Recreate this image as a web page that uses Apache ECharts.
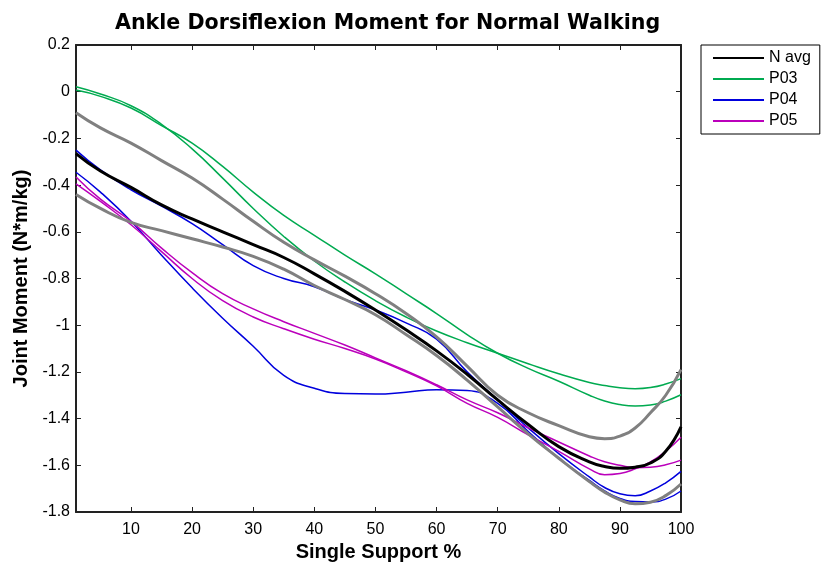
<!DOCTYPE html>
<html>
<head>
<meta charset="utf-8">
<script src="https://cdn.jsdelivr.net/npm/echarts@6/dist/echarts.min.js"></script>
<style>
  html, body { margin: 0; padding: 0; background: #fff; }
  #chart { width: 821px; height: 562px; }
</style>
</head>
<body>
<div id="chart"></div>
<script>
// single support %, sampled every 5 (denser near the end where curves turn)
const xs = [1, 5, 10, 15, 20, 25, 30, 35, 40, 45, 50, 55, 60, 65, 70, 75, 80, 85, 87.5, 90, 92.5, 95, 97.5, 100]
const xTicks = [10, 20, 30, 40, 50, 60, 70, 80, 90, 100]

const nAvg = [-0.265, -0.34, -0.41, -0.485, -0.545, -0.6, -0.655, -0.71, -0.78, -0.855, -0.935, -1.02, -1.11, -1.21, -1.32, -1.425, -1.52, -1.585, -1.605, -1.613, -1.608, -1.59, -1.54, -1.435]
const nUpper = [-0.09, -0.155, -0.22, -0.295, -0.37, -0.46, -0.555, -0.645, -0.72, -0.79, -0.865, -0.95, -1.05, -1.175, -1.3, -1.375, -1.43, -1.478, -1.486, -1.475, -1.44, -1.375, -1.3, -1.19]
const nLower = [-0.44, -0.5, -0.56, -0.595, -0.63, -0.665, -0.705, -0.76, -0.83, -0.89, -0.955, -1.04, -1.13, -1.235, -1.35, -1.465, -1.57, -1.67, -1.715, -1.748, -1.765, -1.758, -1.73, -1.68]

const p03a = [0.021, -0.01, -0.06, -0.14, -0.245, -0.37, -0.5, -0.62, -0.725, -0.815, -0.895, -0.965, -1.025, -1.075, -1.12, -1.165, -1.208, -1.245, -1.258, -1.268, -1.272, -1.267, -1.252, -1.229]
const p03b = [0.007, -0.02, -0.07, -0.145, -0.22, -0.32, -0.43, -0.53, -0.615, -0.7, -0.78, -0.865, -0.95, -1.04, -1.12, -1.185, -1.24, -1.3, -1.325, -1.34, -1.346, -1.342, -1.325, -1.298]

const p04a = [-0.25, -0.335, -0.42, -0.49, -0.565, -0.655, -0.745, -0.8, -0.835, -0.89, -0.935, -0.99, -1.06, -1.2, -1.32, -1.44, -1.55, -1.65, -1.695, -1.722, -1.73, -1.71, -1.675, -1.626]
const p04b = [-0.345, -0.43, -0.555, -0.7, -0.84, -0.97, -1.09, -1.215, -1.27, -1.293, -1.295, -1.287, -1.276, -1.28, -1.335, -1.455, -1.57, -1.665, -1.71, -1.742, -1.755, -1.757, -1.745, -1.71]

const p05a = [-0.365, -0.46, -0.555, -0.67, -0.775, -0.865, -0.93, -0.985, -1.035, -1.085, -1.14, -1.195, -1.255, -1.32, -1.375, -1.44, -1.5, -1.56, -1.585, -1.6, -1.61, -1.608, -1.598, -1.578]
const p05b = [-0.395, -0.47, -0.57, -0.685, -0.8, -0.895, -0.965, -1.015, -1.06, -1.1, -1.145, -1.2, -1.26, -1.335, -1.395, -1.47, -1.54, -1.615, -1.64, -1.635, -1.615, -1.585, -1.54, -1.48]

const pairs = (ys) => xs.map((x, i) => [x, ys[i]])

const font = 'Liberation Sans'

const lineSeries = (name, ys, color, width) => ({
  name: name,
  type: 'line',
  data: pairs(ys),
  smooth: true,
  symbol: 'none',
  xAxisIndex: 0,
  yAxisIndex: 0,
  lineStyle: { color: color, width: width },
  itemStyle: { color: color }
})

const frameAxis = { show: true, onZero: false, lineStyle: { color: '#222', width: 2 } }
const frameTick = (vals) => ({ show: true, inside: true, length: 5, customValues: vals, lineStyle: { color: '#222' } })

const chart = echarts.init(document.getElementById('chart'))

const option = {
  animation: false,
  backgroundColor: '#fff',
  title: {
    text: 'Ankle Dorsiflexion Moment for Normal Walking',
    left: 115,
    top: 13,
    padding: 0,
    textStyle: { fontFamily: 'DejaVu Sans', fontWeight: 'bold', fontSize: 20.6, color: '#000' }
  },
  legend: {
    orient: 'vertical',
    left: 701,
    top: 45,
    data: ['N avg', 'P03', 'P04', 'P05'],
    itemWidth: 51,
    itemHeight: 16,
    itemGap: 5,
    padding: [5, 9, 5, 11],
    borderColor: '#000',
    borderWidth: 1,
    borderRadius: 0,
    itemStyle: { opacity: 0 },
    textStyle: { fontFamily: font, fontSize: 16, color: '#000' }
  },
  grid: { left: 76, right: 140, top: 45, bottom: 50, containLabel: false, outerBoundsMode: 'none' },
  xAxis: [
    {
      type: 'value',
      min: 1,
      max: 100,
      name: 'Single Support %',
      nameLocation: 'middle',
      nameGap: 26,
      nameTextStyle: { fontFamily: font, fontWeight: 'bold', fontSize: 20, color: '#000' },
      axisLine: frameAxis,
      axisTick: frameTick(xTicks),
      axisLabel: { customValues: xTicks, margin: 10, fontFamily: font, fontSize: 16, color: '#000' },
      splitLine: { show: false }
    },
    {
      type: 'value',
      position: 'top',
      min: 1,
      max: 100,
      axisLine: frameAxis,
      axisTick: frameTick(xTicks),
      axisLabel: { show: false },
      splitLine: { show: false }
    }
  ],
  yAxis: [
    {
      type: 'value',
      min: -1.8,
      max: 0.2,
      interval: 0.2,
      name: 'Joint Moment (N*m/kg)',
      nameLocation: 'middle',
      nameRotate: 90,
      nameGap: 36,
      nameTextStyle: { fontFamily: font, fontWeight: 'bold', fontSize: 20, color: '#000' },
      axisLine: frameAxis,
      axisTick: { show: true, inside: true, length: 5, lineStyle: { color: '#222' } },
      axisLabel: { margin: 6, fontFamily: font, fontSize: 16, color: '#000' },
      splitLine: { show: false }
    },
    {
      type: 'value',
      position: 'right',
      min: -1.8,
      max: 0.2,
      interval: 0.2,
      axisLine: frameAxis,
      axisTick: { show: true, inside: true, length: 5, lineStyle: { color: '#222' } },
      axisLabel: { show: false },
      splitLine: { show: false }
    }
  ],
  series: [
    lineSeries('P03', p03a, '#00aa50', 1.5),
    lineSeries('P03', p03b, '#00aa50', 1.5),
    lineSeries('P04', p04a, '#0000dd', 1.5),
    lineSeries('P04', p04b, '#0000dd', 1.5),
    lineSeries('P05', p05a, '#bb00bb', 1.5),
    lineSeries('P05', p05b, '#bb00bb', 1.5),
    lineSeries('N+SD', nUpper, '#808080', 3),
    lineSeries('N-SD', nLower, '#808080', 3),
    lineSeries('N avg', nAvg, '#000000', 3)
  ]
}

chart.setOption(option)
</script>
</body>
</html>
